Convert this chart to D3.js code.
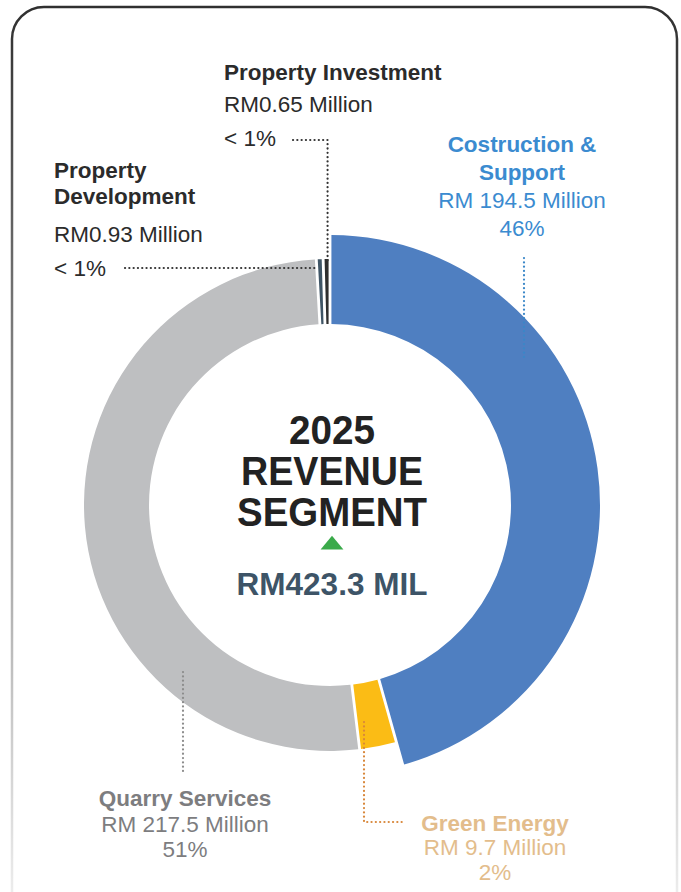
<!DOCTYPE html>
<html>
<head>
<meta charset="utf-8">
<script src="https://cdn.jsdelivr.net/npm/d3@7"></script>
<style>
  body { margin: 0; background: #fff; }
  svg { display: block; font-family: "Liberation Sans", Arial, Helvetica, sans-serif; }
</style>
</head>
<body>
<div id="chart"></div>
<script>
// revenue segments, clockwise from 12 o'clock
var segments = ["Costruction & Support", "Green Energy", "Quarry Services", "Property Development", "Property Investment"]
var revenue = [194.5, 9.7, 217.5, 0.93, 0.65]
var amounts = ["RM 194.5 Million", "RM 9.7 Million", "RM 217.5 Million", "RM0.93 Million", "RM0.65 Million"]
var shares = ["46%", "2%", "51%", "< 1%", "< 1%"]
var colours = ["#4f7fc1", "#fbbc15", "#bebfc1", "#3f5566", "#2e2e2e"]
var titleLines = ["2025", "REVENUE", "SEGMENT"]
var totalLabel = "RM423.3 MIL"

var width = 681, height = 892
var cx = 330, cy = 505

var svg = d3.select("#chart").append("svg")
    .attr("width", width)
    .attr("height", height)

// card frame, fading towards the bottom
var grad = svg.append("defs").append("linearGradient")
    .attr("id", "frameFade")
    .attr("gradientUnits", "userSpaceOnUse")
    .attr("x1", 0).attr("y1", 0).attr("x2", 0).attr("y2", height)
grad.append("stop").attr("offset", 0).attr("stop-color", "#2e2e2e")
grad.append("stop").attr("offset", 0.45).attr("stop-color", "#8a8a8a")
grad.append("stop").attr("offset", 1).attr("stop-color", "#ececec")

svg.append("rect")
    .attr("x", 12).attr("y", 7)
    .attr("width", 665).attr("height", 950)
    .attr("rx", 32)
    .attr("fill", "none")
    .attr("stroke", "url(#frameFade)")
    .attr("stroke-width", 2.5)

var data = segments.map(function(s, i) { return {name: s, value: revenue[i], colour: colours[i]} })

// tiny slices get a minimum visible width so they still show as thin bars
var pie = d3.pie()
    .sort(null)
    .value(function(d) { return Math.max(d.value, 1.25) })
    .padAngle(0.0095)

var inner = 181
var arc = d3.arc()
    .innerRadius(inner)
    .outerRadius(function(d) { return d.index == 0 ? 270 : 246 })
    .padRadius(300)

var arcs = pie(data)

var g = svg.append("g").attr("transform", "translate(" + cx + "," + cy + ")")
g.selectAll("path")
    .data(arcs)
  .enter().append("path")
    .attr("d", arc)
    .attr("fill", function(d) { return d.data.colour })

function edgePoint(d, r) {
  var a = (d.startAngle + d.endAngle) / 2
  return [cx + r * Math.sin(a), cy - r * Math.cos(a)]
}

// dotted leader lines
function leader(points, colour) {
  svg.append("path")
    .attr("d", d3.line()(points))
    .attr("fill", "none")
    .attr("stroke", colour)
    .attr("stroke-width", 2.2)
    .attr("stroke-linecap", "round")
    .attr("stroke-dasharray", "0.1 4.2")
}

var pInv = edgePoint(arcs[4], 246)
leader([[293, 140], [pInv[0] + 1, 140], [pInv[0] + 1, cy - 246 + 2]], "#333")
var pDev = edgePoint(arcs[3], 246)
leader([[125, 268], [pDev[0] - 3, 268]], "#333")
leader([[524, 258], [524, 358]], "#3a87c8")
leader([[183, 672], [183, 772]], "#8c8c8c")
leader([[364, 722], [364, 822], [403, 822]], "#d8873a")

// labels
function label(lines, x, anchor, colour) {
  var t = svg.append("g")
  lines.forEach(function(l) {
    t.append("text")
      .attr("x", x)
      .attr("y", l.y)
      .attr("text-anchor", anchor)
      .attr("fill", colour)
      .style("font-size", "22.5px")
      .style("font-weight", l.bold ? "bold" : "normal")
      .text(l.text)
  })
}

label([
  {text: segments[4], y: 80, bold: true},
  {text: amounts[4], y: 112},
  {text: shares[4], y: 146}
], 224, "start", "#2b2b2b")

label([
  {text: "Property", y: 178, bold: true},
  {text: "Development", y: 204, bold: true},
  {text: amounts[3], y: 242},
  {text: shares[3], y: 276}
], 54, "start", "#2b2b2b")

label([
  {text: "Costruction &", y: 152, bold: true},
  {text: "Support", y: 180, bold: true},
  {text: amounts[0], y: 208},
  {text: shares[0], y: 236}
], 522, "middle", "#3b8bd0")

label([
  {text: segments[2], y: 806, bold: true},
  {text: amounts[2], y: 832},
  {text: shares[2], y: 857}
], 185, "middle", "#7d7d7f")

label([
  {text: segments[1], y: 831, bold: true},
  {text: amounts[1], y: 855},
  {text: shares[1], y: 880}
], 495, "middle", "#e3bd8c")

// centre title
var titleY = [444, 485, 526]
var titleW = [86, 182, 190]
titleLines.forEach(function(t, i) {
  svg.append("text")
    .attr("x", 332)
    .attr("y", titleY[i])
    .attr("text-anchor", "middle")
    .attr("fill", "#222")
    .attr("textLength", titleW[i])
    .attr("lengthAdjust", "spacingAndGlyphs")
    .style("font-size", "40px")
    .style("font-weight", "bold")
    .text(t)
})

svg.append("path")
    .attr("d", d3.symbol().type(d3.symbolTriangle).size(170)())
    .attr("transform", "translate(332,545) scale(1.15,0.8)")
    .attr("fill", "#3aaa4a")

svg.append("text")
    .attr("x", 332)
    .attr("y", 595)
    .attr("text-anchor", "middle")
    .attr("fill", "#3d5467")
    .style("font-size", "31.5px")
    .style("font-weight", "bold")
    .text(totalLabel)
</script>
</body>
</html>
